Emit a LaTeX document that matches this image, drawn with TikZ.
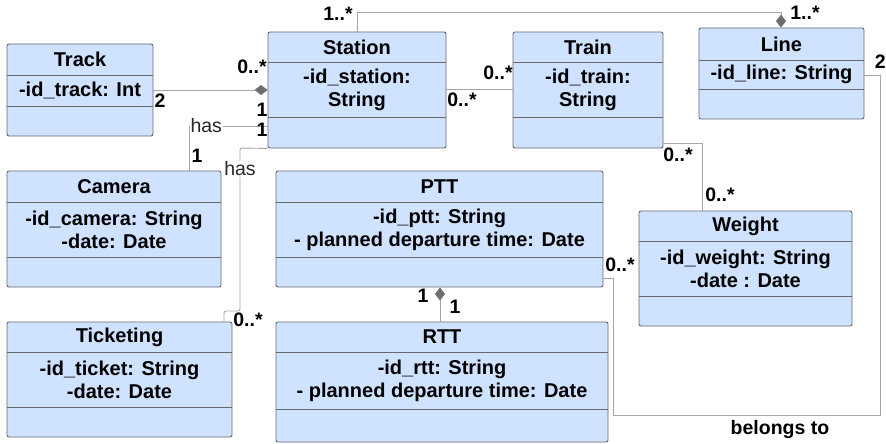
\documentclass[tikz,border=0pt]{standalone}
\usepackage{fontspec}
\setmainfont{Liberation Sans}
\usetikzlibrary{arrows.meta,fit,calc}
\definecolor{classfill}{RGB}{207,226,255}
\definecolor{classdraw}{RGB}{105,105,105}
\definecolor{linkgray}{RGB}{165,165,165}
\definecolor{diamondgray}{RGB}{110,110,110}
\newcommand{\umlclass}[9]{%
 \node[classbox, fit={(#2,#3) (#4,#5)}] (#1) {};
 \draw[sepline] (#2,#6) -- (#4,#6);
 \draw[sepline] (#2,#7) -- (#4,#7);
 \node[classtitle] (#1-title) at ($(#2,#3)!.5!(#4,#6)$) {#8};
 \node[classattr] (#1-attr) at ($(#2,#6)!.5!(#4,#7)$) {#9};
}
\begin{document}
\begin{tikzpicture}[x=1pt,y=-1pt,
 classbox/.style={draw=classdraw, fill=classfill, line width=0.9pt, rounded corners=2pt, inner sep=0pt},
 sepline/.style={draw=classdraw, line width=0.9pt},
 classtitle/.style={font=\fontsize{20}{23}\selectfont\bfseries, inner sep=0pt},
 classattr/.style={font=\fontsize{20}{23}\selectfont\bfseries, align=center, inner sep=0pt},
 assoc/.style={draw=linkgray, line width=0.9pt},
 aggr/.style={-{Diamond[length=13pt,width=10pt,fill=diamondgray,color=diamondgray]}},
 mult/.style={font=\fontsize{19.5}{22}\selectfont\bfseries, inner sep=0pt},
 haslabel/.style={font=\fontsize{19.5}{22}\selectfont, text=black!85, fill=white, inner sep=1pt}]
 \useasboundingbox (0,0) rectangle (886,444);
 \umlclass{track}{7}{44}{153}{136}{75}{106}{Track}{-id\_track: Int}
 \umlclass{station}{268}{32}{446}{148}{62}{117}{Station}{-id\_station:\\String}
 \umlclass{train}{513}{32}{663}{148}{62}{117}{Train}{-id\_train:\\String}
 \umlclass{line}{699}{28}{864}{119}{60}{89}{Line}{-id\_line: String}
 \umlclass{camera}{7}{171}{221}{287}{202}{257}{Camera}{-id\_camera: String\\-date: Date}
 \umlclass{ptt}{276}{171}{603}{287}{202}{257}{PTT}{-id\_ptt: String\\- planned departure time: Date}
 \umlclass{weight}{639}{211}{852}{326}{241}{296}{Weight}{-id\_weight: String\\-date : Date}
 \umlclass{ticketing}{7}{322}{232}{437}{352}{407}{Ticketing}{-id\_ticket: String\\-date: Date}
 \umlclass{rtt}{276}{322}{608}{442}{352}{409}{RTT}{-id\_rtt: String\\- planned departure time: Date}
 \coordinate (topbend) at (781,12);
 \coordinate (rightbend) at (880,415);
 \draw[assoc, aggr] (track.east) -- (track.east -| station.west);
 \draw[assoc] (station.west |- 0,126) -| node[haslabel, pos=0.39] {has} (camera.north -| 189,0);
 \draw[assoc, rounded corners=2pt] (station.south west) -- (240,148) -- (240,311) -- (224,311) -- (ticketing.north -| 224,0);
 \node[haslabel] at (240,169) {has};
 \draw[assoc] (station.east |- 0,89) -- (train.west |- 0,89);
 \draw[assoc, aggr] (station.north) |- (topbend) -- (line.north -| topbend);
 \draw[assoc] (line.east |- 0,75) -| (rightbend) -| (613,278) -- (ptt.east |- 0,278);
 \draw[assoc] (train.east |- 0,143) -| (weight.north -| 702,0);
 \draw[assoc, aggr] (rtt.north -| 440,0) -- (ptt.south -| 440,0);
 \node[mult] at (252,67) {0..*};
 \node[mult] at (160,101) {2};
 \node[mult] at (262,110) {1};
 \node[mult] at (262,130) {1};
 \node[mult] at (197,156) {1};
 \node[mult] at (248,320) {0..*};
 \node[mult] at (498,73) {0..*};
 \node[mult] at (462,100) {0..*};
 \node[mult] at (338,14) {1..*};
 \node[mult] at (805,13) {1..*};
 \node[mult, anchor=east] at (886,62) {2};
 \node[mult] at (678,155) {0..*};
 \node[mult] at (720,195) {0..*};
 \node[mult] at (620,265) {0..*};
 \node[mult] at (423,296) {1};
 \node[mult] at (455,307) {1};
 \node[mult] at (780,429) {belongs to};
\end{tikzpicture}
\end{document}
